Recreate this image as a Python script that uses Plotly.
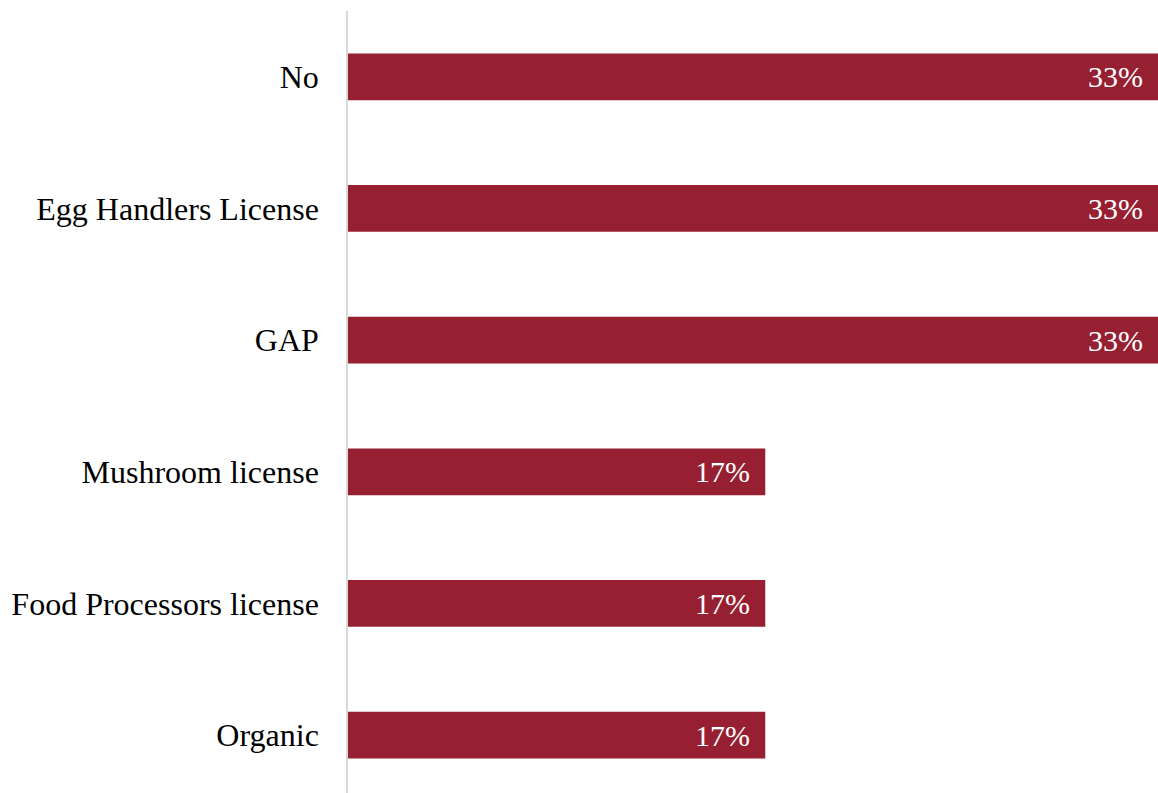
import plotly.graph_objects as go

# Survey responses: licenses / certifications held
categories = ["No", "Egg Handlers License", "GAP", "Mushroom license",
              "Food Processors license", "Organic"]
values = [33, 33, 33, 17, 17, 17]

bar_color = "#971F32"
font_family = "Liberation Serif, Times New Roman, serif"

fig = go.Figure(
    go.Bar(
        x=values,
        y=categories,
        orientation="h",
        marker=dict(color=bar_color, line=dict(width=0)),
        width=0.355,
        hoverinfo="skip",
    )
)

# Value labels inside the bar ends
for cat, v in zip(categories, values):
    fig.add_annotation(
        x=v, y=cat, text=f"{v}%", showarrow=False,
        xanchor="right", yanchor="middle", xshift=-13,
        font=dict(family=font_family, size=30, color="white"),
    )

fig.update_layout(
    width=1158, height=793,
    margin=dict(l=348, r=0, t=11, b=0),
    paper_bgcolor="white", plot_bgcolor="white",
    showlegend=False,
    font=dict(family=font_family, size=32, color="black"),
    xaxis=dict(range=[0, 33], visible=False, showgrid=False, zeroline=False),
    yaxis=dict(
        range=[5.44, -0.5], showgrid=False, zeroline=False,
        showline=True, linecolor="#d9d9d9", linewidth=1.5,
        ticks="", ticklabelstandoff=21,
        tickfont=dict(family=font_family, size=32, color="black"),
    ),
)

fig.write_html("out.html")
